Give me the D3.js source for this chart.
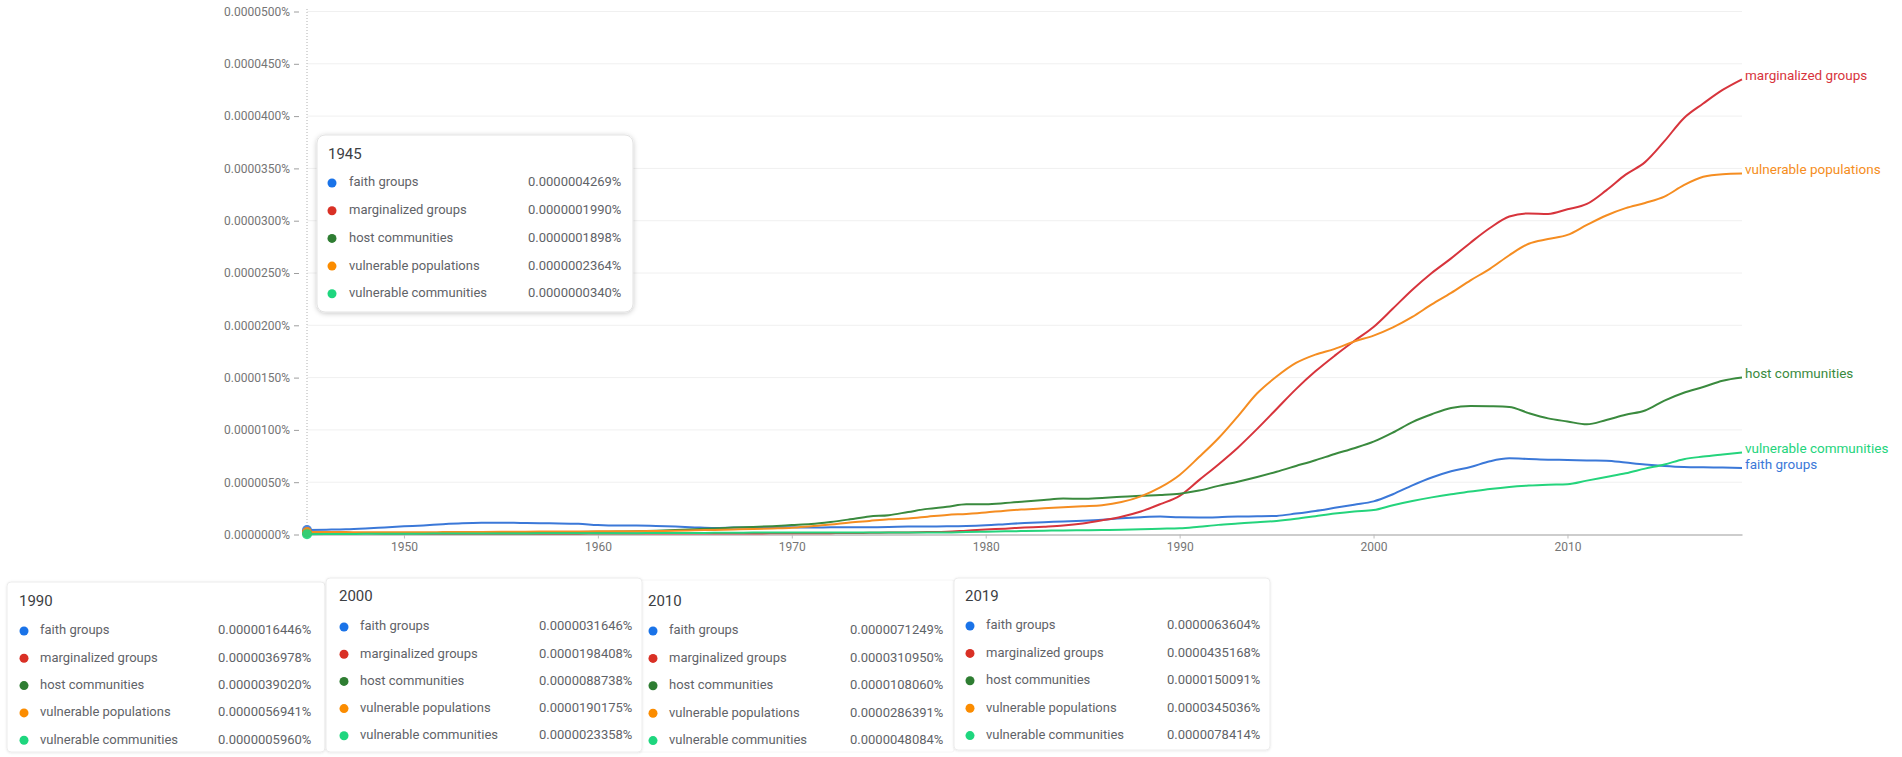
<!DOCTYPE html>
<html>
<head>
<meta charset="utf-8">
<script src="https://cdn.jsdelivr.net/npm/d3@7"></script>
<style>
  html, body { margin: 0; padding: 0; background: #ffffff; }
  svg { display: block; font-family: Roboto, "Noto Sans", Arial, sans-serif; }
</style>
</head>
<body>
<svg id="chart" width="1902" height="757"></svg>
<script>
// ---------------- DATA ----------------
const years = d3.range(1945, 2020);
const seriesNames = ["faith groups", "marginalized groups", "host communities", "vulnerable populations", "vulnerable communities"];

// values in units of 0.000001 %
const faithGroups = [
  0.4269, 0.46, 0.50, 0.58, 0.68, 0.78, 0.87, 0.98, 1.07, 1.12,
  1.13, 1.10, 1.07, 1.06, 1.02, 0.90, 0.85, 0.85, 0.82, 0.76,
  0.68, 0.62, 0.66, 0.70, 0.70, 0.69, 0.67, 0.69, 0.70, 0.70,
  0.72, 0.76, 0.77, 0.78, 0.81, 0.88, 0.99, 1.10, 1.18, 1.24,
  1.32, 1.42, 1.56, 1.66, 1.72, 1.6446, 1.63, 1.66, 1.72, 1.74,
  1.78, 2.00, 2.25, 2.55, 2.85, 3.1646, 3.85, 4.70, 5.45, 6.05,
  6.45, 7.00, 7.28, 7.22, 7.15, 7.1249, 7.08, 7.06, 6.88, 6.70,
  6.56, 6.46, 6.42, 6.40, 6.3604
];
const marginalizedGroups = [
  0.1990, 0.18, 0.15, 0.12, 0.10, 0.09, 0.08, 0.08, 0.07, 0.07,
  0.07, 0.08, 0.08, 0.08, 0.08, 0.09, 0.09, 0.09, 0.10, 0.10,
  0.10, 0.10, 0.10, 0.10, 0.11, 0.12, 0.12, 0.13, 0.14, 0.16,
  0.18, 0.20, 0.23, 0.27, 0.37, 0.47, 0.56, 0.66, 0.75, 0.86,
  1.05, 1.35, 1.70, 2.20, 2.90, 3.6978, 5.20, 6.70, 8.30, 10.10,
  12.00, 13.90, 15.60, 17.10, 18.50, 19.8408, 21.60, 23.40, 25.00, 26.40,
  27.90, 29.30, 30.40, 30.70, 30.65, 31.0950, 31.60, 32.90, 34.40, 35.60,
  37.60, 39.80, 41.20, 42.50, 43.5168
];
const hostCommunities = [
  0.1898, 0.17, 0.15, 0.14, 0.13, 0.13, 0.14, 0.15, 0.16, 0.18,
  0.20, 0.22, 0.22, 0.23, 0.24, 0.26, 0.28, 0.30, 0.35, 0.42,
  0.50, 0.58, 0.66, 0.72, 0.80, 0.90, 1.00, 1.20, 1.45, 1.72,
  1.85, 2.15, 2.45, 2.65, 2.90, 2.90, 3.00, 3.15, 3.30, 3.43,
  3.42, 3.50, 3.60, 3.70, 3.78, 3.9020, 4.20, 4.65, 5.05, 5.50,
  6.00, 6.55, 7.10, 7.70, 8.25, 8.8738, 9.75, 10.75, 11.50, 12.10,
  12.28, 12.26, 12.20, 11.60, 11.10, 10.8060, 10.53, 10.95, 11.45, 11.85,
  12.80, 13.55, 14.10, 14.70, 15.0091
];
const vulnerablePopulations = [
  0.2364, 0.24, 0.23, 0.22, 0.22, 0.22, 0.22, 0.23, 0.24, 0.25,
  0.26, 0.27, 0.28, 0.28, 0.29, 0.30, 0.31, 0.32, 0.34, 0.36,
  0.40, 0.44, 0.48, 0.52, 0.58, 0.65, 0.80, 0.95, 1.15, 1.30,
  1.45, 1.53, 1.70, 1.87, 1.97, 2.10, 2.28, 2.40, 2.50, 2.60,
  2.70, 2.80, 3.10, 3.65, 4.50, 5.6941, 7.40, 9.20, 11.30, 13.50,
  15.10, 16.40, 17.20, 17.75, 18.45, 19.0175, 19.80, 20.80, 22.00, 23.10,
  24.30, 25.40, 26.70, 27.80, 28.25, 28.6391, 29.60, 30.50, 31.20, 31.70,
  32.30, 33.40, 34.20, 34.45, 34.5036
];
const vulnerableCommunities = [
  0.0340, 0.04, 0.05, 0.06, 0.07, 0.08, 0.08, 0.09, 0.09, 0.10,
  0.10, 0.10, 0.11, 0.11, 0.12, 0.12, 0.13, 0.13, 0.14, 0.14,
  0.15, 0.16, 0.17, 0.18, 0.19, 0.20, 0.20, 0.20, 0.19, 0.18,
  0.18, 0.18, 0.19, 0.20, 0.24, 0.27, 0.30, 0.33, 0.36, 0.39,
  0.41, 0.43, 0.46, 0.50, 0.55, 0.5960, 0.75, 0.92, 1.05, 1.18,
  1.30, 1.50, 1.75, 2.00, 2.20, 2.3358, 2.80, 3.20, 3.55, 3.85,
  4.10, 4.35, 4.55, 4.68, 4.76, 4.8084, 5.15, 5.50, 5.85, 6.30,
  6.70, 7.20, 7.45, 7.65, 7.8414
];
const seriesValues = [faithGroups, marginalizedGroups, hostCommunities, vulnerablePopulations, vulnerableCommunities];

const yTicks = [0, 5, 10, 15, 20, 25, 30, 35, 40, 45, 50];
const xTicks = [1950, 1960, 1970, 1980, 1990, 2000, 2010];

// tooltip snapshots (units of 0.000001 %)
const tipYears = [1945, 1990, 2000, 2010, 2019];
const tipFaith = [0.4269, 1.6446, 3.1646, 7.1249, 6.3604];
const tipMarginalized = [0.1990, 3.6978, 19.8408, 31.0950, 43.5168];
const tipHost = [0.1898, 3.9020, 8.8738, 10.8060, 15.0091];
const tipVulnPop = [0.2364, 5.6941, 19.0175, 28.6391, 34.5036];
const tipVulnComm = [0.0340, 0.5960, 2.3358, 4.8084, 7.8414];
const tipValues = [tipFaith, tipMarginalized, tipHost, tipVulnPop, tipVulnComm];

// ---------------- STYLE / LAYOUT ----------------
const colors = ["#3b78d8", "#d7343c", "#3a8a3e", "#f58d21", "#24d47c"];
const dotColors = ["#1a73e8", "#d93025", "#2e7d32", "#fb8c00", "#1ed67e"];

const svg = d3.select("#chart");
const x = d3.scaleLinear().domain([1945, 2019]).range([307, 1742]);
const y = d3.scaleLinear().domain([0, 50]).range([534.5, 11.5]);

// gridlines
svg.append("g").selectAll("line").data(yTicks.filter(d => d > 0)).join("line")
  .attr("x1", 307).attr("x2", 1742)
  .attr("y1", d => y(d)).attr("y2", d => y(d))
  .attr("stroke", "#f0f0f0").attr("stroke-width", 1);

// y axis
const yAxis = svg.append("g").attr("transform", "translate(299,0)")
  .call(d3.axisLeft(y).tickValues(yTicks).tickFormat(d => (d / 1e6).toFixed(7) + "%").tickSize(5).tickPadding(4));
yAxis.select(".domain").remove();
yAxis.selectAll(".tick line").attr("stroke", "#9e9e9e");
yAxis.selectAll(".tick text").attr("fill", "#757575").style("font-size", "12px").style("font-family", "Roboto, sans-serif");

// dotted left axis
svg.append("line").attr("x1", 307).attr("x2", 307).attr("y1", 9).attr("y2", 534)
  .attr("stroke", "#b0b0b0").attr("stroke-width", 1).attr("stroke-dasharray", "1,2");

// x axis
const xAxis = svg.append("g").attr("transform", "translate(0,534.5)")
  .call(d3.axisBottom(x).tickValues(xTicks).tickFormat(d3.format("d")).tickSize(4).tickSizeOuter(0).tickPadding(4));
xAxis.select(".domain").attr("stroke", "#bdbdbd").attr("stroke-width", 1.6);
xAxis.selectAll(".tick line").attr("stroke", "#bdbdbd");
xAxis.selectAll(".tick text").attr("fill", "#757575").style("font-size", "12px").style("font-family", "Roboto, sans-serif");

// lines
const line = d3.line().x((d, i) => x(years[i])).y(d => y(d)).curve(d3.curveMonotoneX);
svg.append("g").selectAll("path").data(seriesValues).join("path")
  .attr("d", d => line(d))
  .attr("fill", "none")
  .attr("stroke", (d, i) => colors[i])
  .attr("stroke-width", 2)
  .attr("stroke-linejoin", "round");

// end labels
svg.append("g").selectAll("text").data(seriesValues).join("text")
  .attr("x", 1745)
  .attr("y", d => y(d[d.length - 1]) - 3)
  .attr("dominant-baseline", "middle")
  .attr("fill", (d, i) => colors[i])
  .style("font-size", "13.5px")
  .text((d, i) => seriesNames[i]);

// hover markers at 1945
svg.append("g").selectAll("circle").data(seriesValues).join("circle")
  .attr("cx", x(years[0]))
  .attr("cy", d => y(d[0]))
  .attr("r", 5)
  .attr("fill", (d, i) => colors[i])
  .attr("opacity", 0.9);

// ---------------- TOOLTIP BOXES ----------------
const defs = svg.append("defs");
const f = defs.append("filter").attr("id", "shadow").attr("x", "-10%").attr("y", "-10%").attr("width", "120%").attr("height", "125%");
f.append("feDropShadow").attr("dx", 0).attr("dy", 1).attr("stdDeviation", 2.5).attr("flood-color", "#000").attr("flood-opacity", 0.22);
const f2 = defs.append("filter").attr("id", "shadow2").attr("x", "-10%").attr("y", "-10%").attr("width", "120%").attr("height", "125%");
f2.append("feDropShadow").attr("dx", 0).attr("dy", 0.5).attr("stdDeviation", 1).attr("flood-color", "#000").attr("flood-opacity", 0.10);

const boxLayout = [
  {x: 317, y: 135, w: 316, h: 177, r: 8, filter: "url(#shadow)", stroke: "#e3e3e3"},
  {x: 7, y: 582, w: 318, h: 170, r: 4, filter: "url(#shadow2)", stroke: "#ececec"},
  {x: 636, y: 580, w: 318, h: 172, r: 2, filter: null, stroke: "#f6f6f6"},
  {x: 326, y: 578, w: 316, h: 174, r: 4, filter: "url(#shadow2)", stroke: "#ececec"},
  {x: 954, y: 578, w: 316, h: 172, r: 4, filter: "url(#shadow2)", stroke: "#ececec"}
];
const boxTip = [0, 1, 3, 2, 4];
const boxOffsets = [
  {title: 20, row0: 48, step: 27.7, dot: 15, label: 32, value: 211},
  {title: 20, row0: 49, step: 27.3, dot: 17, label: 33, value: 211},
  {title: 22, row0: 51, step: 27.4, dot: 17, label: 33, value: 214},
  {title: 19, row0: 49, step: 27.2, dot: 18, label: 34, value: 213},
  {title: 19, row0: 48, step: 27.4, dot: 16, label: 32, value: 213}
];
const boxTitleDx = [11, 12, 12, 13, 11];

boxLayout.forEach((b, k) => {
  const t = boxTip[k];
  const o = boxOffsets[k];
  const g = svg.append("g").attr("transform", `translate(${b.x},${b.y})`);
  const rect = g.append("rect").attr("width", b.w).attr("height", b.h).attr("rx", b.r)
    .attr("fill", "#ffffff").attr("stroke", b.stroke).attr("stroke-width", 1);
  if (b.filter) rect.attr("filter", b.filter);
  g.append("text").attr("x", boxTitleDx[k]).attr("y", o.title)
    .attr("dominant-baseline", "middle")
    .attr("fill", "#3c4043").style("font-size", "15px")
    .text(tipYears[t]);
  seriesNames.forEach((name, i) => {
    const cy = o.row0 + i * o.step;
    g.append("circle").attr("cx", o.dot).attr("cy", cy).attr("r", 4.5).attr("fill", dotColors[i]);
    g.append("text").attr("x", o.label).attr("y", cy).attr("dominant-baseline", "middle")
      .attr("fill", "#5f6368").style("font-size", "13px").text(name);
    g.append("text").attr("x", o.value).attr("y", cy).attr("dominant-baseline", "middle")
      .attr("fill", "#5f6368").style("font-size", "13px")
      .text((tipValues[i][t] / 1e6).toFixed(10) + "%");
  });
});
</script>
</body>
</html>
